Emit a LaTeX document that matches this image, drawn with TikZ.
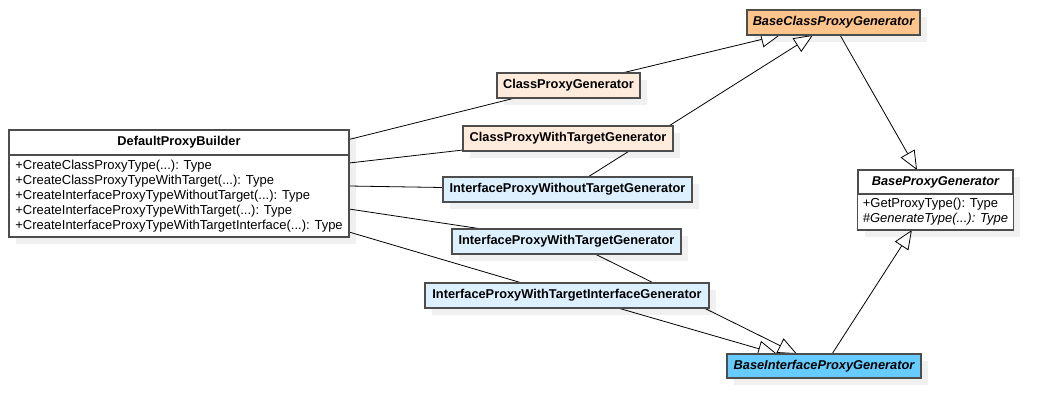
\documentclass[tikz,border=0pt]{standalone}
\usepackage{fontspec}
\setmainfont{Liberation Sans}
\usepackage{tikz}
\usetikzlibrary{positioning,arrows.meta,backgrounds,calc}

\pgfdeclarelayer{shade}
\pgfsetlayers{shade,background,main}

\definecolor{bordergray}{HTML}{4D4D4D}
\definecolor{peachlight}{HTML}{FFEBDC}
\definecolor{peachdark}{HTML}{FFC48C}
\definecolor{bluelight}{HTML}{DCF0FF}
\definecolor{bluedark}{HTML}{66CCFF}
\definecolor{shadowgray}{HTML}{F0F0F0}

\begin{document}
\begin{tikzpicture}[
  x=1pt, y=-1pt,
  cls/.style={
    rectangle, draw=bordergray, line width=1.2pt, fill=white,
    anchor=north west, minimum height=25pt, inner sep=0pt, outer sep=0pt,
    font=\fontsize{12.8}{15}\selectfont\bfseries
  },
  abs/.style={font=\fontsize{12.8}{15}\selectfont\bfseries\itshape},
  ops/.style={
    rectangle, draw=bordergray, line width=1.2pt, fill=white,
    inner xsep=5pt, inner ysep=0pt, outer sep=0pt, align=left,
    font=\fontsize{13}{15}\selectfont
  },
  cpx/.style={fill=peachlight},
  cbase/.style={fill=peachdark},
  ipx/.style={fill=bluelight},
  ibase/.style={fill=bluedark},
  shade/.style={fill=shadowgray},
  link/.style={line width=0.8pt, black},
  gen/.style={link, -{Triangle[open, length=19pt, width=16pt, fill=white]}}
]
\useasboundingbox (0,0) rectangle (1052,418);

% --- builder ---
\node[cls, minimum width=340pt] (dpb) at (9,130) {DefaultProxyBuilder};
\node[ops, below=0pt of dpb, minimum width=340pt, minimum height=82pt] (dpbops)
  {+CreateClassProxyType(...): Type\\
   +CreateClassProxyTypeWithTarget(...): Type\\
   +CreateInterfaceProxyTypeWithoutTarget(...): Type\\
   +CreateInterfaceProxyTypeWithTarget(...): Type\\
   +CreateInterfaceProxyTypeWithTargetInterface(...): Type};

% --- concrete generators ---
\node[cls, cpx, minimum width=143pt] (cpg)   at (497,73)  {ClassProxyGenerator};
\node[cls, cpx, minimum width=210pt] (cpgt)  at (463,126) {ClassProxyWithTargetGenerator};
\node[cls, ipx, minimum width=249pt] (ipwot) at (443,177) {InterfaceProxyWithoutTargetGenerator};
\node[cls, ipx, minimum width=229pt] (ipwt)  at (452,229) {InterfaceProxyWithTargetGenerator};
\node[cls, ipx, minimum width=284pt] (ipwti) at (425,283) {InterfaceProxyWithTargetInterfaceGenerator};

% --- base generators ---
\node[cls, cbase, abs, minimum width=173pt] (bcpg) at (747,10) {BaseClassProxyGenerator};
\node[cls, ibase, abs, minimum width=194pt, minimum height=24pt] (bipg) at (727,354) {BaseInterfaceProxyGenerator};
\node[cls, abs, minimum width=155pt, minimum height=24pt] (bpg) at (858,170) {BaseProxyGenerator};
\node[ops, below=0pt of bpg, minimum width=155pt, minimum height=36pt] (bpgops)
  {+GetProxyType(): Type\\ \textit{\#GenerateType(...): Type}};

% --- shadows ---
\begin{pgfonlayer}{shade}
\foreach \n in {dpb,dpbops,cpg,cpgt,ipwot,ipwt,ipwti,bcpg,bipg,bpg,bpgops}
  \fill[shade] ($(\n.north west)+(7,7)$) rectangle ($(\n.south east)+(7,7)$);
\end{pgfonlayer}

% --- connectors ---
\begin{scope}[on background layer]
\draw[link] ($(dpb.east)+(0,-3)$)     -- ($(cpg.south west)+(18,0)$);
\draw[link] ($(dpbops.east)+(0,-33)$) -- ($(cpgt.south west)+(0,-1)$);
\draw[link] ($(dpbops.east)+(0,-10)$) -- ($(ipwot.west)+(0,-2)$);
\draw[link] ($(dpbops.east)+(0,13)$)  -- ($(ipwt.north west)+(30,0)$);
\draw[link] ($(dpbops.east)+(0,36)$)  -- ($(ipwti.north west)+(97,0)$);

\draw[gen] ($(cpg.north west)+(125,0)$)   -- ($(bcpg.south west)+(33,0)$);
\draw[gen] ($(ipwot.north west)+(145,0)$) -- ($(bcpg.south west)+(66,0)$);
\draw[gen] ($(bcpg.south west)+(93,0)$)   -- ($(bpg.north west)+(59,0)$);
\draw[gen] ($(bipg.north west)+(105,0)$)  -- ($(bpgops.south west)+(54,0)$);
\draw[gen] ($(ipwt.south west)+(143,0)$)  -- ($(bipg.north west)+(70,0)$);
\draw[gen] ($(ipwti.south west)+(193,0)$) -- ($(bipg.north west)+(50,0)$);
\end{scope}

\end{tikzpicture}
\end{document}
